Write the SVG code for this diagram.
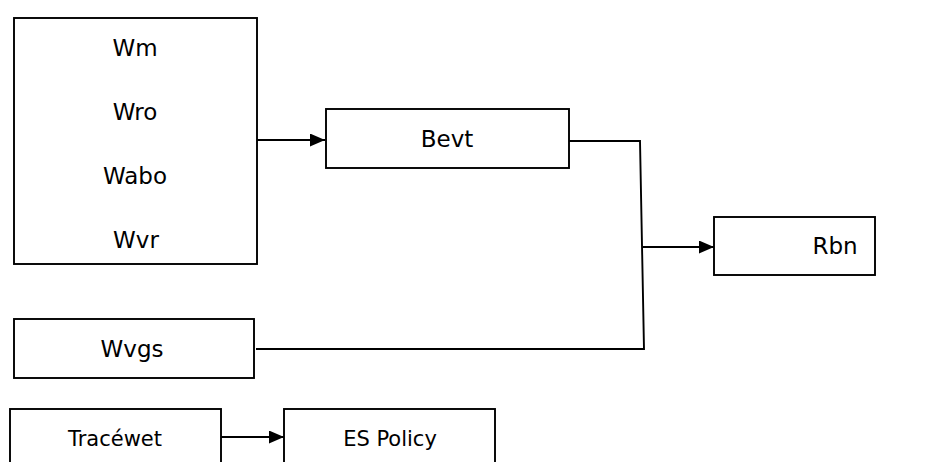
<svg xmlns="http://www.w3.org/2000/svg" width="944" height="462" viewBox="0 0 944 462">
  <defs>
    <marker id="arrow" viewBox="0 0 15 13" refX="15" refY="6.5" markerWidth="15" markerHeight="13" markerUnits="userSpaceOnUse" orient="auto">
      <path d="M0,0 L15,6.5 L0,13 Z" fill="#000"/>
    </marker>
    <style>
      .box { fill: #fff; stroke: #000; stroke-width: 1.9; }
      .lbl { font-family: "DejaVu Sans", Verdana, sans-serif; font-size: 23px; fill: #000; text-anchor: middle; }
      .sm { font-size: 21px; }
      .wire { fill: none; stroke: #000; stroke-width: 1.9; }
    </style>
  </defs>
  <rect width="944" height="462" fill="#fff"/>

  <g id="connectors">
    <line class="wire" x1="257" y1="140" x2="325" y2="140" marker-end="url(#arrow)"/>
    <polyline class="wire" points="569,141 640,141 644,349 256,349"/>
    <line class="wire" x1="643" y1="247" x2="714" y2="247" marker-end="url(#arrow)"/>
    <line class="wire" x1="221" y1="437" x2="284" y2="437" marker-end="url(#arrow)"/>
  </g>

  <g id="inputs">
    <rect class="box" x="14" y="18" width="243" height="246"/>
    <text class="lbl" x="135" y="56">Wm</text>
    <text class="lbl" x="135" y="120">Wro</text>
    <text class="lbl" x="135" y="184">Wabo</text>
    <text class="lbl" x="136" y="248">Wvr</text>
  </g>

  <g id="bevt">
    <rect class="box" x="326" y="109" width="243" height="59"/>
    <text class="lbl" x="447" y="147">Bevt</text>
  </g>

  <g id="rbn">
    <rect class="box" x="714" y="217" width="161" height="58"/>
    <text class="lbl" x="835" y="254">Rbn</text>
  </g>

  <g id="wvgs">
    <rect class="box" x="14" y="319" width="240" height="59"/>
    <text class="lbl" x="132" y="357">Wvgs</text>
  </g>

  <g id="tracewet">
    <rect class="box" x="10" y="409" width="211" height="70"/>
    <text class="lbl sm" x="115" y="446">Tracéwet</text>
  </g>

  <g id="es-policy">
    <rect class="box" x="284" y="409" width="211" height="70"/>
    <text class="lbl sm" x="390" y="446">ES Policy</text>
  </g>
</svg>
